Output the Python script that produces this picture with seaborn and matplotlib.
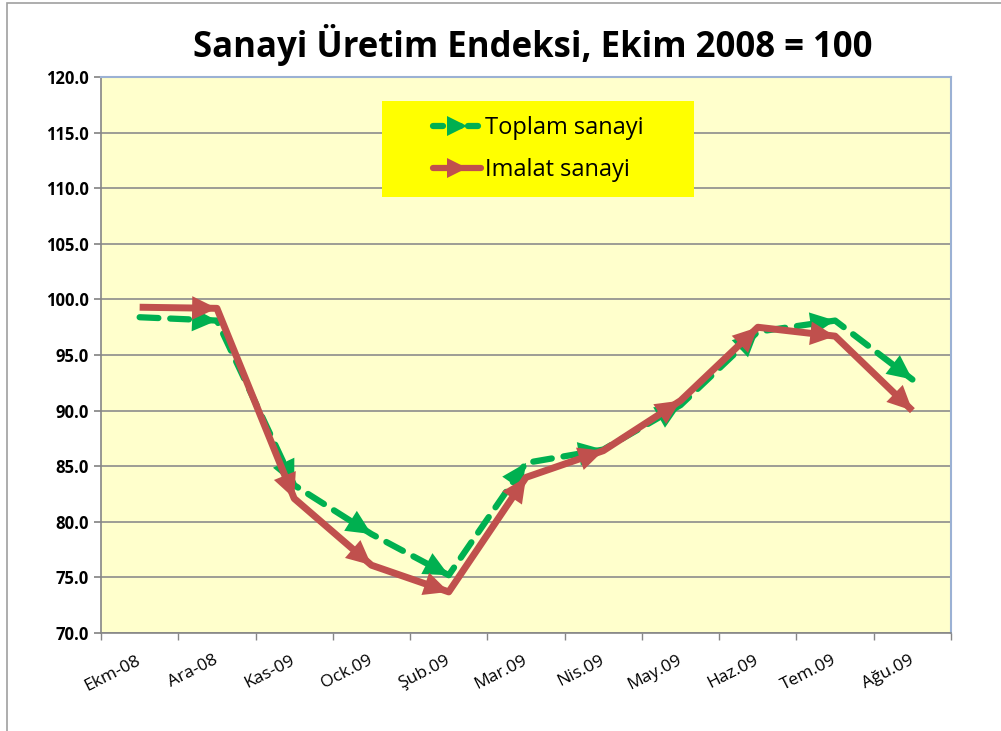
import numpy as np
import pandas as pd
import seaborn as sns
import matplotlib.pyplot as plt
from matplotlib.lines import Line2D
from matplotlib.legend_handler import HandlerLine2D
from matplotlib.patches import Rectangle

# Data
months = ["Ekm-08", "Ara-08", "Kas-09", "Ock.09", "Şub.09", "Mar.09",
          "Nis.09", "May.09", "Haz.09", "Tem.09", "Ağu.09"]
toplam = [98.4, 98.1, 83.3, 78.9, 75.2, 85.3, 86.5, 90.5, 97.1, 98.1, 92.8]
imalat = [99.3, 99.2, 82.1, 76.1, 73.7, 84.0, 86.4, 90.9, 97.5, 96.7, 90.0]

green = "#00B050"
red = "#C0504D"

sns.set_theme(style="white")
plt.rcParams["font.family"] = ["Open Sans", "DejaVu Sans"]
plt.rcParams["text.color"] = "black"
plt.rcParams["xtick.color"] = "black"
plt.rcParams["ytick.color"] = "black"

df = pd.DataFrame({"pos": np.arange(len(months)), "toplam": toplam, "imalat": imalat})

fig = plt.figure(figsize=(10.01, 7.31), dpi=100)
ax = fig.add_axes([0.1009, 0.134, 0.8492, 0.7606])
ax.set_facecolor("#FFFFCC")

sns.lineplot(data=df, x="pos", y="toplam", ax=ax, color=green, lw=4.5,
             linestyle=(0, (3, 1.9)), dash_capstyle="round", zorder=3)
sns.lineplot(data=df, x="pos", y="imalat", ax=ax, color=red, lw=5,
             solid_capstyle="butt", zorder=4)


# arrow head at the end of each segment
def heads(vals, color, z):
    for i in range(1, len(vals)):
        ax.annotate("", xy=(i, vals[i]), xytext=(i - 1, vals[i - 1]),
                    arrowprops=dict(arrowstyle="-|>,head_length=1.05,head_width=0.5",
                                    color=color, lw=0, shrinkA=0, shrinkB=0,
                                    mutation_scale=17),
                    zorder=z)


heads(toplam, green, 3.5)
heads(imalat, red, 4.5)

ax.set_xlim(-0.5, len(months) - 0.5)
ax.set_ylim(70, 120)
ax.set_yticks(np.arange(70, 121, 5))
ax.set_yticklabels([f"{v:.1f}" for v in np.arange(70, 121, 5)],
                   fontsize=12, fontweight="bold")
ax.set_xticks(np.arange(len(months)))
ax.set_xticklabels(months, rotation=27, fontsize=12.5, ha="right", va="center",
                   rotation_mode="anchor")
ax.set_xticks(np.arange(-0.5, len(months), 1), minor=True)
ax.tick_params(axis="x", which="major", length=0, pad=19)
ax.tick_params(axis="x", which="minor", length=5, color="#868686", direction="out", bottom=True)
ax.tick_params(axis="y", length=5, color="#868686", direction="out", left=True)
ax.yaxis.grid(True, color="#8C8C8C", lw=1.2)
ax.set_axisbelow(True)
ax.set_xlabel("")
ax.set_ylabel("")
for s in ["left", "bottom"]:
    ax.spines[s].set_color("#868686")
    ax.spines[s].set_linewidth(1.2)
for s in ["top", "right"]:
    ax.spines[s].set_color("#9BB1D4")
    ax.spines[s].set_linewidth(1.5)

fig.text(0.532, 0.938, "Sanayi Üretim Endeksi, Ekim 2008 = 100",
         ha="center", va="center", fontsize=25, fontweight="bold")


class ArrowHandler(HandlerLine2D):
    def get_xdata(self, legend, xdescent, ydescent, width, height, fontsize):
        xdata, _ = super().get_xdata(legend, xdescent, ydescent, width, height, fontsize)
        return xdata, np.array([xdata[-1]])


# yellow legend box
ax.add_patch(Rectangle((0.331, 0.784), 0.367, 0.173, transform=ax.transAxes,
                       facecolor="#FFFF00", edgecolor="none", zorder=9))

handles = [
    Line2D([0], [0], color=green, lw=4.5, linestyle=(0, (1.6, 1.2)),
           dash_capstyle="round", marker=">", markersize=14, markeredgewidth=0),
    Line2D([0], [0], color=red, lw=4.5, marker=">", markersize=14, markeredgewidth=0),
]
leg = ax.legend(handles, ["Toplam sanayi", "Imalat sanayi"],
                handler_map={Line2D: ArrowHandler(numpoints=1)},
                loc="center", bbox_to_anchor=(0.515, 0.8705),
                fontsize=17, frameon=False,
                handlelength=2.0, handletextpad=0.2, labelspacing=0.75)
leg.set_zorder(10)
for t in leg.get_texts():
    t.set_color("black")

# outer chart border
fig.patches.append(Rectangle((0.007, -0.1), 1.2, 1.096, transform=fig.transFigure,
                             fill=False, edgecolor="#A0A0A0", lw=1.2))

fig.savefig("out.png", dpi=100)
